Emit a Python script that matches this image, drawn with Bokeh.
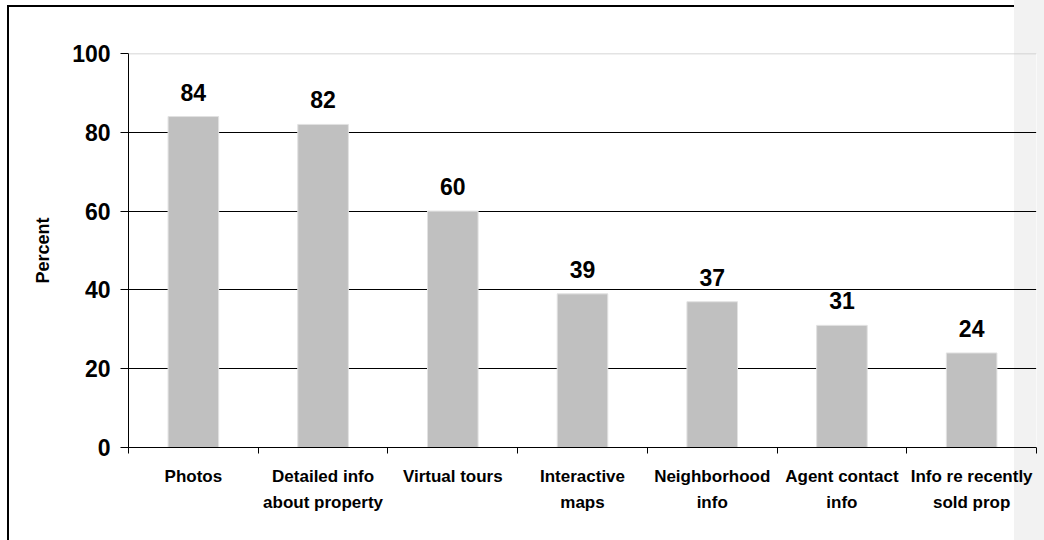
from bokeh.plotting import figure
from bokeh.models import ColumnDataSource, FixedTicker, Range1d, LabelSet, Span
from bokeh.core.properties import value
from bokeh.embed import file_html
from bokeh.resources import INLINE

# Share of buyers who found each website feature very useful
categories = ["Photos", "Detailed info about property", "Virtual tours",
              "Interactive maps", "Neighborhood info", "Agent contact info",
              "Info re recently sold prop"]
tick_labels = ["Photos", "Detailed info\nabout property", "Virtual tours",
               "Interactive\nmaps", "Neighborhood\ninfo", "Agent contact\ninfo",
               "Info re recently\nsold prop"]
percent = [84, 82, 60, 39, 37, 31, 24]
y_ticks = [0, 20, 40, 60, 80, 100]

FONT = "Liberation Sans"
n = len(categories)
centers = [i + 0.5 for i in range(n)]
bounds = [i for i in range(n + 1)]

src = ColumnDataSource(dict(x=centers, cat=categories, pct=percent,
                            lbl=[str(v) for v in percent]))

p = figure(width=1044, height=540, output_backend="svg", toolbar_location=None,
           x_range=Range1d(0, n), y_range=Range1d(0, 100),
           min_border_left=128, min_border_right=8,
           min_border_top=53, min_border_bottom=93)
p.border_fill_color = None
p.background_fill_color = None
p.outline_line_color = None
p.styles = {
    "background": (
        "linear-gradient(#000, #000) 7px 5px / 2px 100% no-repeat, "
        "linear-gradient(#000, #000) 7px 5px / 1007px 2px no-repeat, "
        "linear-gradient(to right, #ffffff 1014px, #f2f2f2 1014px)"
    )
}

# Horizontal gridlines, the top one drawn lighter as the plot-area edge
p.xgrid.visible = False
p.ygrid.ticker = FixedTicker(ticks=y_ticks[1:-1])
p.ygrid.grid_line_color = "#000000"
p.ygrid.grid_line_width = 1
p.add_layout(Span(location=100, dimension="width", line_color="#c8c8c8", line_width=1.5))
p.add_layout(Span(location=n, dimension="height", line_color="#ffffff", line_width=1))

p.vbar(x="x", top="pct", width=0.39, source=src,
       fill_color="#c0c0c0", line_color="#e2e2e2", line_width=1)

p.add_layout(LabelSet(x="x", y="pct", text="lbl", source=src,
                      text_align="center", text_baseline="alphabetic", y_offset=16,
                      text_font=value(FONT), text_font_style="bold",
                      text_font_size="23px", text_color="#000000"))

# Y axis
ya = p.yaxis[0]
ya.ticker = FixedTicker(ticks=y_ticks)
ya.axis_label = "Percent"
ya.axis_label_text_font = FONT
ya.axis_label_text_font_style = "bold"
ya.axis_label_text_font_size = "18px"
ya.axis_label_text_color = "#000000"
ya.axis_label_standoff = 16
ya.major_label_text_font = FONT
ya.major_label_text_font_style = "bold"
ya.major_label_text_font_size = "23px"
ya.major_label_text_color = "#000000"
ya.major_label_standoff = 10
ya.major_tick_out = 8
ya.major_tick_in = 0
ya.minor_tick_out = 0
ya.minor_tick_in = 0
ya.axis_line_color = "#000000"
ya.major_tick_line_color = "#000000"

# X axis: labels under each bar, tick marks between categories
xa = p.xaxis[0]
xa.ticker = FixedTicker(ticks=centers, minor_ticks=bounds)
xa.major_label_overrides = {c: t for c, t in zip(centers, tick_labels)}
xa.major_label_text_font = FONT
xa.major_label_text_font_style = "bold"
xa.major_label_text_font_size = "17px"
xa.major_label_text_color = "#000000"
xa.major_label_text_line_height = 1.4
xa.major_label_standoff = 13
xa.major_tick_out = 0
xa.major_tick_in = 0
xa.minor_tick_out = 6
xa.minor_tick_in = 0
xa.axis_line_color = "#000000"
xa.minor_tick_line_color = "#000000"

open("out.html", "w").write(file_html(p, INLINE))
